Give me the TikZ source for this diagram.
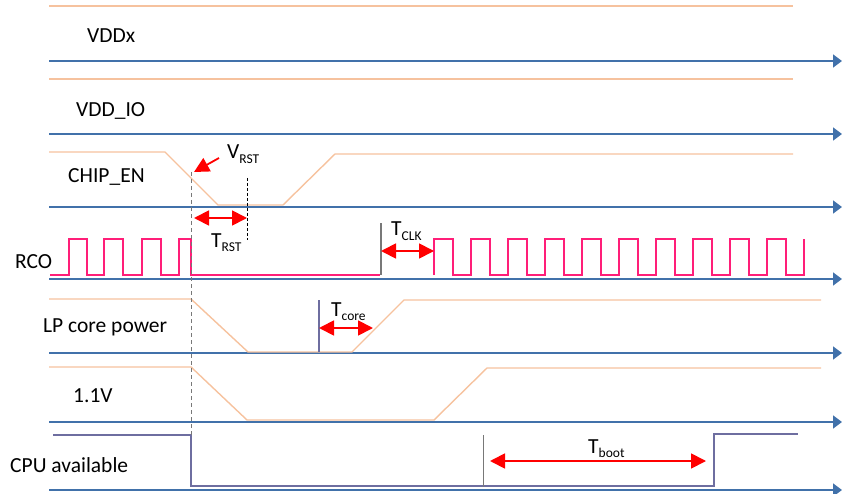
\documentclass[tikz,border=0pt]{standalone}
\usepackage{fontspec}
\setmainfont{Carlito}
\usetikzlibrary{arrows.meta}
\definecolor{axisblue}{RGB}{65,113,170}
\definecolor{supplyorange}{RGB}{246,194,158}
\definecolor{clockpink}{RGB}{255,30,120}
\definecolor{cpupurple}{RGB}{110,110,160}
\definecolor{markgray}{RGB}{120,120,120}
\newcommand{\tsub}[2]{#1\raisebox{-0.22em}{\fontsize{13.5}{15}\selectfont #2}}

\begin{document}
\begin{tikzpicture}[
    x=1pt, y=-1pt,
    axis/.style={-{Triangle[length=9pt,width=13pt]}, axisblue, line width=1.6pt},
    supply/.style={supplyorange, line width=1.4pt},
    clock/.style={clockpink, line width=1.3pt},
    cpuline/.style={cpupurple, line width=1.3pt},
    marker/.style={markgray, line width=1.2pt},
    timing/.style={{Triangle[length=15pt,width=15pt]}-{Triangle[length=15pt,width=15pt]}, red, line width=1.8pt},
    siglabel/.style={font=\fontsize{21.5}{25}\selectfont, inner sep=0pt, anchor=base west},
]
\useasboundingbox (0,0) rectangle (842,494);

% === EJES ===
\foreach \y in {61,134,207,279,353,422,490} {
    \draw[axis] (49,\y) -- (842,\y);
}

% === SEÑALES ===
% VDDx y VDD_IO
\draw[supply] (49,6) -- (793,6);
\draw[supply] (49,79) -- (793,79);

% CHIP_EN
\draw[supply] (49,152) -- (165,152) -- (218,205) -- (283,205) -- (335,154) -- (793,154);

% RCO
\draw[clock] (50,275) foreach \r/\f in {69/87,104/123,142/161,179/191} {
    -- (\r,275) -- (\r,239) -- (\f,239) -- (\f,275) } -- (380,275);
\draw[clock] (434,275) foreach \k in {0,...,9} {
    -- ({434+37*\k},239) -- ({453+37*\k},239) -- ({453+37*\k},275) -- ({471+37*\k},275) } -- (804,239);

% LP core power
\draw[supply] (49,299) -- (191,299) -- (248,352) -- (352,352) -- (404,300) -- (821,300);

% 1.1V
\draw[supply] (49,367) -- (191,367) -- (247,420) -- (434,420) -- (487,368) -- (821,368);

% CPU available
\draw[cpuline] (53,435) -- (191,435) -- (191,486) -- (714,486) -- (714,434) -- (798,434);

% === MARCAS ===
\draw[markgray, line width=1pt, dash pattern=on 4pt off 3pt] (191,172) -- (191,436);
\draw[black, line width=0.8pt, dash pattern=on 3pt off 2pt] (247,178) -- (247,240);
\draw[marker] (381,223) -- (381,275);
\draw[cpupurple, line width=1.2pt] (319,300) -- (319,352);
\draw[markgray, line width=1pt] (483,435) -- (483,487);

% === ETIQUETAS ===
\node[siglabel] (vddx) at (87,43) {VDDx};
\node[siglabel] (vddio) at (76,117) {VDD\_IO};
\node[siglabel] (chipen) at (68,183) {CHIP\_EN};
\node[siglabel] (rco) at (15,268) {RCO};
\node[siglabel] (lpcore) at (43,332) {LP core power};
\node[siglabel] (vcore) at (73,402) {1.1V};
\node[siglabel] (cpu) at (10,472) {CPU available};

% === TIEMPOS ===
\node[siglabel] (vrst) at (227,159) {\tsub{V}{RST}};
\coordinate (vrst tail) at (219,158);
\coordinate (vrst tip) at (194,172);
\draw[-{Triangle[length=15pt,width=15pt]}, red, line width=1.8pt] (vrst tail) -- (vrst tip);

\node[siglabel] (trst) at (211,247) {\tsub{T}{RST}};
\coordinate (trst a) at (194,218);
\coordinate (trst b) at (247,218);
\draw[timing] (trst a) -- (trst b);

\node[siglabel] (tclk) at (391,236) {\tsub{T}{CLK}};
\coordinate (tclk a) at (381,251);
\coordinate (tclk b) at (434,251);
\draw[timing] (tclk a) -- (tclk b);

\node[siglabel] (tcore) at (331,316) {\tsub{T}{core}};
\coordinate (tcore a) at (319,328);
\coordinate (tcore b) at (373,328);
\draw[timing] (tcore a) -- (tcore b);

\node[siglabel] (tboot) at (588,453) {\tsub{T}{boot}};
\coordinate (tboot a) at (490,461);
\coordinate (tboot b) at (706,461);
\draw[timing] (tboot a) -- (tboot b);

\end{tikzpicture}
\end{document}
